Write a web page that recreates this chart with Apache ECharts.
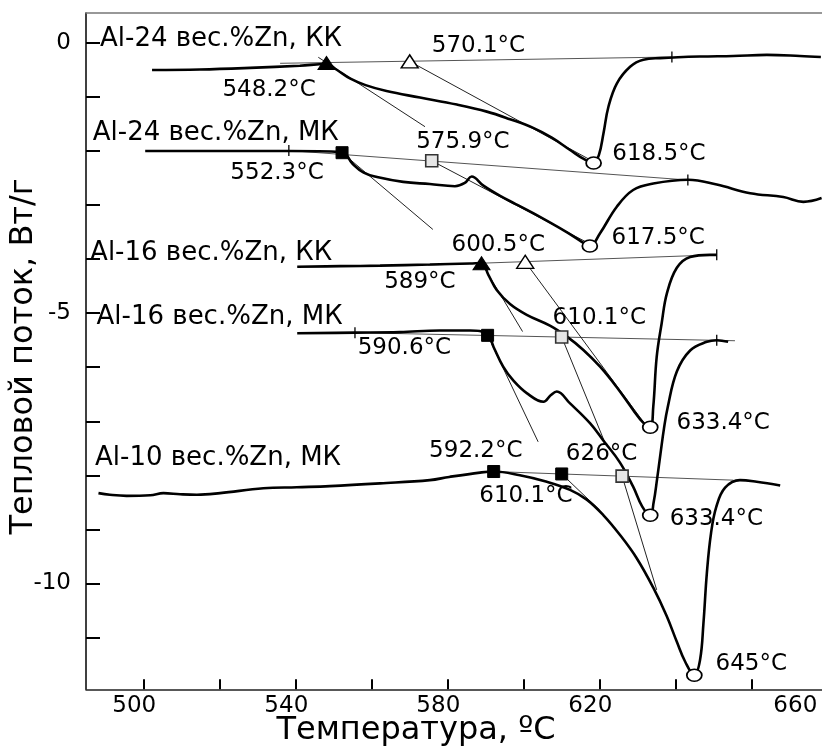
<!DOCTYPE html>
<html>
<head>
<meta charset="utf-8">
<script src="https://cdn.jsdelivr.net/npm/echarts@6/dist/echarts.min.js"></script>
<style>
  html, body { margin: 0; padding: 0; background: #fff; }
  #chart { width: 822px; height: 746px; }
</style>
</head>
<body>
<div id="chart"></div>
<script>
// Axis ticks and labels
const tempTicks = [500, 520, 540, 560, 580, 600, 620, 640, 660];
const tempLabels = [500, 540, 580, 620, 660];
const flowTicks = [-11, -10, -9, -8, -7, -6, -5, -4, -3, -2, -1, 0];
const flowLabels = [-10, -5, 0];

// DSC heating curves: [temperature °C, heat flow W/g]
const al24kk = [[502.3,-0.50],[514.9,-0.49],[528.1,-0.46],[541.2,-0.42],[548.2,-0.39],[551.0,-0.50],[554.5,-0.66],[558.5,-0.78],[564.0,-0.89],[572.8,-1.01],[582.5,-1.14],[590.4,-1.27],[596.5,-1.41],[602.6,-1.57],[607.5,-1.75],[612.5,-1.99],[616.0,-2.15],[618.5,-2.22],[619.9,-2.07],[621.1,-1.67],[622.4,-1.18],[624.6,-0.75],[628.1,-0.44],[631.6,-0.31],[636.0,-0.28],[646.5,-0.25],[655.2,-0.24],[664.1,-0.22],[672.8,-0.24],[678.3,-0.26]];
const al24mk = [[500.5,-2.00],[514.9,-2.00],[538.3,-2.00],[552.3,-2.02],[555.0,-2.23],[558.0,-2.40],[561.5,-2.48],[568.4,-2.57],[575.4,-2.61],[582.0,-2.65],[584.6,-2.59],[586.4,-2.47],[589.5,-2.64],[593.9,-2.83],[598.0,-2.98],[602.6,-3.15],[611.4,-3.50],[615.0,-3.66],[617.5,-3.757],[620.2,-3.52],[624.6,-3.03],[628.9,-2.72],[634.2,-2.60],[643.4,-2.53],[650.9,-2.62],[659.7,-2.78],[668.4,-2.85],[673.7,-2.94],[678.5,-2.87]];
const al16kk = [[540.5,-4.14],[551.8,-4.13],[562.3,-4.12],[575.4,-4.10],[585.9,-4.08],[589.0,-4.07],[590.8,-4.29],[593.0,-4.57],[596.5,-4.83],[600.9,-5.03],[607.0,-5.23],[611.4,-5.43],[615.8,-5.68],[620.2,-5.99],[624.6,-6.37],[628.9,-6.79],[631.6,-7.03],[633.4,-7.11],[634.2,-6.73],[635.1,-5.81],[636.4,-5.19],[637.8,-4.63],[640.4,-4.16],[643.9,-3.96],[649.1,-3.92],[650.9,-3.92]];
const al16mk = [[540.5,-5.37],[555.7,-5.36],[567.5,-5.35],[578.0,-5.32],[586.0,-5.32],[590.6,-5.39],[592.2,-5.63],[594.7,-5.99],[597.4,-6.25],[600.9,-6.48],[605.3,-6.64],[607.2,-6.52],[608.8,-6.45],[612.3,-6.67],[617.6,-7.04],[621.1,-7.36],[625.4,-7.76],[628.9,-8.21],[631.3,-8.58],[633.4,-8.74],[634.3,-8.50],[635.2,-8.07],[636.1,-7.60],[637.0,-7.14],[638.0,-6.74],[640.4,-6.08],[643.9,-5.69],[648.3,-5.53],[650.9,-5.50],[653.9,-5.53]];
const al10mk = [[488.2,-8.33],[491.2,-8.36],[495.6,-8.38],[501.8,-8.37],[505.3,-8.33],[509.7,-8.35],[514.1,-8.36],[520.2,-8.33],[531.6,-8.24],[540.4,-8.22],[549.1,-8.20],[562.3,-8.15],[575.4,-8.09],[580.5,-8.03],[588.6,-7.95],[592.2,-7.93],[599.1,-8.00],[606.2,-8.12],[612.3,-8.27],[616.7,-8.45],[621.1,-8.74],[625.4,-9.10],[629.8,-9.53],[634.2,-10.08],[637.7,-10.60],[640.4,-11.08],[642.6,-11.45],[645.0,-11.70],[646.5,-11.42],[647.4,-10.74],[648.3,-9.81],[649.4,-9.07],[650.8,-8.58],[653.1,-8.23],[657.0,-8.09],[661.4,-8.12],[667.6,-8.19]];

// Baselines under each peak
const baselines = [
  [[536.0,-0.376],[639.1,-0.259]],
  [[538.3,-1.99],[643.3,-2.536]],
  [[575.0,-4.11],[650.9,-3.92]],
  [[555.7,-5.36],[655.7,-5.51]],
  [[592.2,-7.93],[655.3,-8.09]]
];
// Tangent construction lines
const tangents = [
  [[546.05,-0.265],[574.13,-1.549]],
  [[570.1,-0.34],[617.8,-2.17]],
  [[552.3,-2.03],[576.2,-3.45]],
  [[575.9,-2.18],[617.0,-3.70]],
  [[589.0,-4.075],[599.8,-5.34]],
  [[600.5,-4.05],[632.0,-7.05]],
  [[590.6,-5.41],[603.9,-7.38]],
  [[610.1,-5.44],[621.5,-7.40]],
  [[610.1,-7.975],[620.0,-8.64]],
  [[626.0,-8.015],[635.1,-10.12]]
];

// Characteristic points
const onsetTriangles = [[548.2,-0.37],[589.0,-4.075]];
const openTriangles = [[570.1,-0.34],[600.5,-4.05]];
const onsetSquares = [[552.3,-2.03],[590.6,-5.41],[592.2,-7.93],[610.1,-7.975]];
const openSquares = [[575.9,-2.18],[610.1,-5.44],[626.0,-8.015]];
const peaks = [[618.5,-2.22],[617.5,-3.757],[633.4,-7.11],[633.4,-8.74],[645.0,-11.70]];
const baselineEnds = [[639.1,-0.259],[538.3,-1.99],[643.3,-2.536],[650.9,-3.92],[555.7,-5.36],[650.9,-5.50]];

// Curve captions (left edge) and temperature labels (centre)
const curveNames = [
  [488.6, 0.078, 'Al-24 вес.%Zn, КК'],
  [486.7, -1.671, 'Al-24 вес.%Zn, МК'],
  [486.0, -3.892, 'Al-16 вес.%Zn, КК'],
  [487.7, -5.075, 'Al-16 вес.%Zn, МК'],
  [487.3, -7.677, 'Al-10 вес.%Zn, МК']
];
const tempNotes = [
  [533.1, -0.870, '548.2°C'],
  [588.2, -0.052, '570.1°C'],
  [635.7, -2.054, '618.5°C'],
  [535.2, -2.412, '552.3°C'],
  [584.1, -1.832, '575.9°C'],
  [635.5, -3.615, '617.5°C'],
  [593.4, -3.748, '600.5°C'],
  [572.8, -4.418, '589°C'],
  [620.0, -5.086, '610.1°C'],
  [568.7, -5.651, '590.6°C'],
  [652.6, -7.030, '633.4°C'],
  [587.5, -7.548, '592.2°C'],
  [620.6, -7.613, '626°C'],
  [600.7, -8.381, '610.1°C'],
  [650.8, -8.814, '633.4°C'],
  [660.0, -11.497, '645°C']
];

const FONT = 'DejaVu Sans';
const X_MIN = 484.92, X_MAX = 678.6, Y_MIN = -11.96, Y_MAX = 0.555;

function thinLine(data, color) {
  return { type: 'line', data, symbol: 'none', silent: true, z: 2,
           lineStyle: { width: 1, color } };
}
function curve(data) {
  return { type: 'line', data, symbol: 'none', silent: true, z: 3,
           smooth: 0.4,
           lineStyle: { width: 2.6, color: '#000' } };
}
function marks(data, symbol, size, fill, border, bw) {
  return { type: 'scatter', data, symbol, symbolSize: size, silent: true, z: 5,
           itemStyle: { color: fill, borderColor: border, borderWidth: bw, opacity: 1 } };
}
function texts(items, size, align) {
  return { type: 'scatter', symbolSize: 0, silent: true, z: 6,
           itemStyle: { opacity: 1 },
           data: items.map(([t, v, s]) => ({ value: [t, v], name: s })),
           label: { show: true, position: [0, 0], align, verticalAlign: 'middle',
                    formatter: p => p.name, fontSize: size, fontFamily: FONT,
                    color: '#000', opacity: 1, textBorderWidth: 0 } };
}

const series = [];
baselines.forEach(b => series.push(thinLine(b, '#555')));
tangents.forEach(t => series.push(thinLine(t, '#222')));
[al24kk, al24mk, al16kk, al16mk, al10mk].forEach(c => series.push(curve(c)));
series.push(marks(baselineEnds, 'rect', [1.3, 11], '#000', '#000', 0));
series.push(marks(onsetTriangles, 'triangle', [17, 13], '#000', '#000', 1));
series.push(marks(openTriangles, 'triangle', [17, 13], '#fff', '#000', 1.4));
series.push(marks(onsetSquares, 'rect', 12, '#000', '#000', 1));
series.push(marks(openSquares, 'rect', 12, '#e6e6e6', '#333', 1.6));
series.push(marks(peaks, 'circle', [15, 12], '#fff', '#000', 1.6));
series.push(texts(curveNames, 26, 'left'));
series.push(texts(tempNotes, 23, 'center'));

const chart = echarts.init(document.getElementById('chart'), null, { renderer: 'canvas' });
chart.setOption({
  animation: false,
  backgroundColor: '#fff',
  grid: { left: 86, right: 0, top: 13, bottom: 56.7, containLabel: false, outerBoundsMode: 'none' },
  xAxis: [{
    type: 'value', min: X_MIN, max: X_MAX, position: 'bottom',
    axisLine: { show: true, onZero: false, lineStyle: { color: '#222', width: 1.5 } },
    axisTick: { show: true, inside: true, length: 10, customValues: tempTicks,
                lineStyle: { color: '#000', width: 2 } },
    axisLabel: {
      show: true, customValues: tempLabels, margin: 5,
      fontSize: 23, fontFamily: FONT, color: '#000',
      formatter: v => (v === 660 ? '{far|660}' : '{near|' + v + '}'),
      rich: {
        near: { padding: [0, 18, 0, 0], fontSize: 23, fontFamily: FONT, color: '#000' },
        far: { padding: [0, 0, 0, 88], fontSize: 23, fontFamily: FONT, color: '#000' }
      }
    },
    splitLine: { show: false },
    name: 'Температура, ºC', nameLocation: 'middle', nameGap: 25, nameMoveOverlap: false,
    nameTextStyle: { fontSize: 32, fontFamily: FONT, color: '#000', padding: [0, 76, 0, 0] }
  }, {
    type: 'value', min: X_MIN, max: X_MAX, position: 'top',
    axisLine: { show: true, onZero: false, lineStyle: { color: '#777', width: 1.5 } },
    axisTick: { show: false }, axisLabel: { show: false }, splitLine: { show: false }
  }],
  yAxis: {
    type: 'value', min: Y_MIN, max: Y_MAX,
    axisLine: { show: true, onZero: false, lineStyle: { color: '#000', width: 1.5 } },
    axisTick: { show: true, inside: true, length: 14, customValues: flowTicks,
                lineStyle: { color: '#000', width: 2 } },
    axisLabel: { show: true, customValues: flowLabels, margin: 15,
                 fontSize: 23, fontFamily: FONT, color: '#000' },
    splitLine: { show: false },
    name: 'Тепловой поток, Вт/г', nameLocation: 'middle', nameGap: 46.7, nameMoveOverlap: false,
    nameTextStyle: { fontSize: 32, fontFamily: FONT, color: '#000', padding: [0, 10.7, 0, 0] }
  },
  series
});
</script>
</body>
</html>
